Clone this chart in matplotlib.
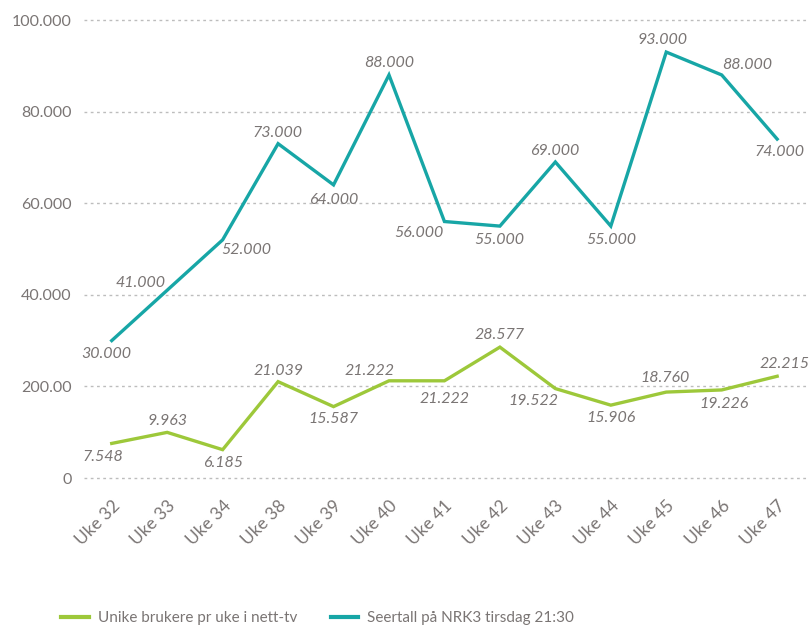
import matplotlib
matplotlib.use("Agg")
import matplotlib.pyplot as plt
from matplotlib.lines import Line2D

# Data
weeks = ["Uke 32", "Uke 33", "Uke 34", "Uke 38", "Uke 39", "Uke 40", "Uke 41",
         "Uke 42", "Uke 43", "Uke 44", "Uke 45", "Uke 46", "Uke 47"]
nett_tv = [7548, 9963, 6185, 21039, 15587, 21222, 21222,
           28577, 19522, 15906, 18760, 19226, 22215]
nrk3 = [30000, 41000, 52000, 73000, 64000, 88000, 56000,
        55000, 69000, 55000, 93000, 88000, 74000]
y_ticks = [0, 20000, 40000, 60000, 80000, 100000]
y_tick_labels = ["0", "200.00", "40.000", "60.000", "80.000", "100.000"]
series_names = ["Unike brukere pr uke i nett-tv", "Seertall på NRK3 tirsdag 21:30"]

# Label offsets (pixels) relative to each point
nrk3_offsets = [(-5, -13), (-27, 7), (24, -10), (-1, 11), (0, -15), (0, 12), (-26, -11),
                (-1, -14), (-1, 11), (0, -14), (-4, 12), (25, 10), (2, -13)]
nett_offsets = [(-9, -14), (0, 11), (0, -13), (0, 11), (0, -12), (-19, 10), (0, -18),
                (0, 12), (-22, -12), (0, -13), (-1, 14), (2, -14), (7, 12)]

GREEN = "#9DC83A"
TEAL = "#17A6A6"
TEXT = "#7A7574"
GRID = "#BDBDBD"

plt.rcParams["font.family"] = ["Lato", "DejaVu Sans"]

fig = plt.figure(figsize=(8.10, 6.25), dpi=100)
ax = fig.add_axes([84 / 810, 1 - 478 / 625, (806 - 84) / 810, (478 - 20) / 625])

x = list(range(len(weeks)))
ax.plot(x, nett_tv, color=GREEN, lw=2.4, solid_joinstyle="miter", zorder=3)
ax.plot(x, nrk3, color=TEAL, lw=2.4, solid_joinstyle="miter", zorder=3)

for xi, v, (dx, dy) in zip(x, nrk3, nrk3_offsets):
    ax.annotate(f"{v:,}".replace(",", "."), (xi, v), xytext=(dx, dy),
                textcoords="offset pixels", ha="center", va="center",
                fontsize=11.5, style="italic", color=TEXT, zorder=4)
for xi, v, (dx, dy) in zip(x, nett_tv, nett_offsets):
    ax.annotate(f"{v:,}".replace(",", "."), (xi, v), xytext=(dx, dy),
                textcoords="offset pixels", ha="center", va="center",
                fontsize=11.5, style="italic", color=TEXT, zorder=4)

ax.set_xlim(-0.5, 12.52)
ax.set_ylim(0, 100000)
ax.set_yticks(y_ticks)
ax.set_yticklabels(y_tick_labels)
ax.set_xticks(x)
ax.set_xticklabels(weeks, rotation=45, ha="right", rotation_mode="anchor")

for yv in y_ticks:
    ax.axhline(yv, color=GRID, lw=1.0, linestyle=(0, (2, 2.5)), zorder=1, clip_on=False)

for s in ax.spines.values():
    s.set_visible(False)
ax.tick_params(axis="both", length=0, labelcolor=TEXT)
ax.tick_params(axis="y", pad=9, labelsize=11.5)
ax.tick_params(axis="x", pad=14, labelsize=12.5)

handles = [Line2D([0], [0], color=GREEN, lw=3), Line2D([0], [0], color=TEAL, lw=3)]
fig.legend(handles, series_names, loc="lower left", bbox_to_anchor=(0.0585, -0.022),
           ncol=2, frameon=False, fontsize=11, labelcolor=TEXT,
           handlelength=1.8, columnspacing=2.2, handletextpad=0.6)

fig.savefig("out.png", dpi=100)
